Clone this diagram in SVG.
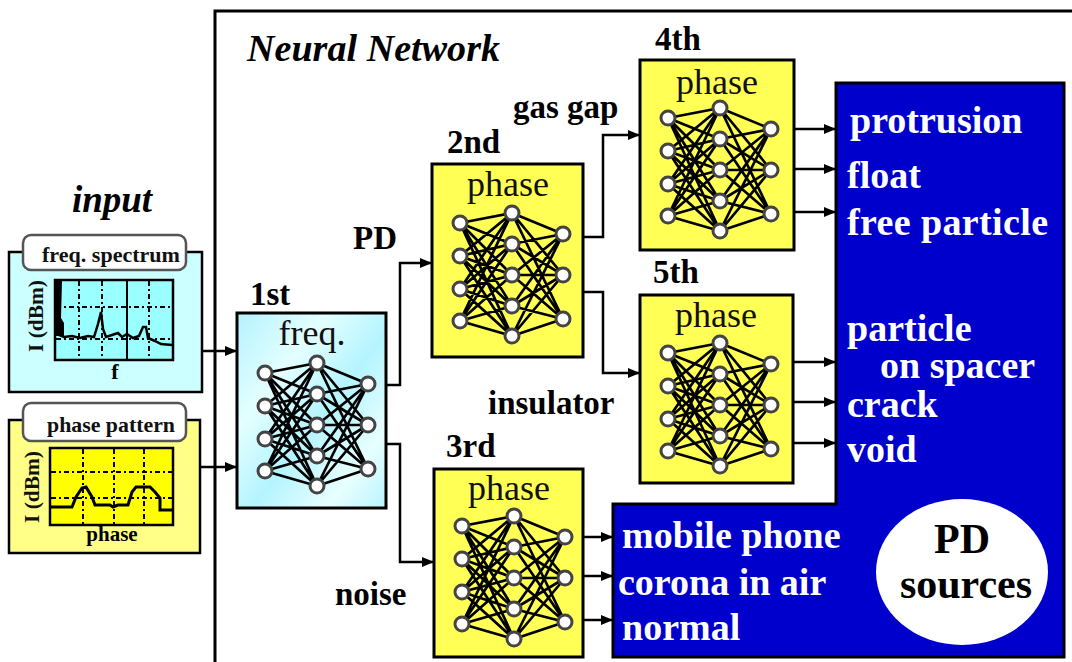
<svg xmlns="http://www.w3.org/2000/svg" xmlns:xlink="http://www.w3.org/1999/xlink" width="1072" height="662" viewBox="0 0 1072 662">
<style>
text{font-family:"Liberation Serif","Times New Roman",serif}
.lbl{font-weight:bold;font-size:33px;fill:#000}
.ttl{font-size:36px;text-anchor:middle;fill:#111}
.out{font-weight:bold;font-size:38px;fill:#fff}
.box{stroke:#000;stroke-width:3}
.ybox{fill:#ffff55}
.con{fill:none;stroke:#000;stroke-width:2.5}
.grid{fill:none;stroke:#000;stroke-width:2;stroke-dasharray:5 3 2 3}
.small{font-weight:bold;font-size:21px;fill:#111}
</style>
<defs>
<linearGradient id="cyanG" x1="0" y1="0" x2="1" y2="1">
<stop offset="0" stop-color="#b4f2ff"/>
<stop offset="0.3" stop-color="#e4ffff"/>
<stop offset="0.55" stop-color="#b4f4ff"/>
<stop offset="0.8" stop-color="#e8ffff"/>
<stop offset="1" stop-color="#b8f4ff"/>
</linearGradient>
<marker id="arr" markerUnits="userSpaceOnUse" markerWidth="12" markerHeight="10" refX="12" refY="5" orient="auto">
<path d="M0,0 L12,5 L0,10 Z" fill="#000"/>
</marker>
<g id="net">
<path fill="none" stroke="#000" stroke-width="2.7" d="M28 58L80 48M28 58L80 79M28 58L80 110M28 58L80 141M28 58L80 171M28 91L80 48M28 91L80 79M28 91L80 110M28 91L80 141M28 91L80 171M28 124L80 48M28 124L80 79M28 124L80 110M28 124L80 141M28 124L80 171M28 156L80 48M28 156L80 79M28 156L80 110M28 156L80 141M28 156L80 171M80 48L131 69M80 48L131 110M80 48L131 154M80 79L131 69M80 79L131 110M80 79L131 154M80 110L131 69M80 110L131 110M80 110L131 154M80 141L131 69M80 141L131 110M80 141L131 154M80 171L131 69M80 171L131 110M80 171L131 154"/>
<g fill="#fff" stroke="#444" stroke-width="3">
<circle cx="28" cy="58" r="7"/><circle cx="28" cy="91" r="7"/><circle cx="28" cy="124" r="7"/><circle cx="28" cy="156" r="7"/>
<circle cx="80" cy="48" r="7"/><circle cx="80" cy="79" r="7"/><circle cx="80" cy="110" r="7"/><circle cx="80" cy="141" r="7"/><circle cx="80" cy="171" r="7"/>
<circle cx="131" cy="69" r="7"/><circle cx="131" cy="110" r="7"/><circle cx="131" cy="154" r="7"/>
</g>
</g>
</defs>

<rect width="1072" height="662" fill="#fff"/>

<g id="frame">
<path d="M215,662 V11 H1072" fill="none" stroke="#000" stroke-width="3"/>
<text x="247" y="61" font-size="38" font-style="italic" font-weight="bold" textLength="253">Neural Network</text>
</g>

<g id="pd-sources">
<path d="M836,83 H1064 V657 H613 V504 H836 Z" fill="#0000cc" stroke="#000" stroke-width="3"/>
<ellipse cx="962" cy="572" rx="86" ry="73" fill="#fff"/>
<text x="962" y="553" text-anchor="middle" font-size="42" font-weight="bold">PD</text>
<text x="966" y="598" text-anchor="middle" font-size="42" font-weight="bold">sources</text>
<text class="out" x="850" y="133">protrusion</text>
<text class="out" x="847" y="188">float</text>
<text class="out" x="847" y="235" textLength="201">free particle</text>
<text class="out" x="847" y="341">particle</text>
<text class="out" x="880" y="378">on spacer</text>
<text class="out" x="847" y="417">crack</text>
<text class="out" x="847" y="462">void</text>
<text class="out" x="622" y="548">mobile phone</text>
<text class="out" x="618" y="595">corona in air</text>
<text class="out" x="622" y="640">normal</text>
</g>

<g id="input">
<text x="112" y="212" text-anchor="middle" font-size="37" font-style="italic" font-weight="bold">input</text>
</g>

<g id="freq-spectrum">
<rect x="9" y="252" width="193" height="140" fill="#ccffff" stroke="#000" stroke-width="2.5"/>
<rect x="23" y="235" width="163" height="35" rx="8" fill="#fff" stroke="#555" stroke-width="2.5"/>
<text class="small" x="42" y="262" textLength="138" lengthAdjust="spacingAndGlyphs">freq. spectrum</text>
<rect x="55" y="280" width="118" height="80" fill="#99ffff" stroke="#000" stroke-width="2.5"/>
<path class="grid" d="M79,281 V359 M102,281 V359 M149,281 V359 M56,307 H172 M56,339 H172"/>
<path d="M127,281 V359" stroke="#000" stroke-width="2"/>
<path d="M56,281 H62 L61,318 L64,323 V336 H56 Z" fill="#000"/>
<path d="M57,334 L64,337 L72,336 L80,338 L88,336 L94,337 L98,324 L101,312 L103,329 L106,337 L112,335 L118,333 L122,337 L127,334 L133,338 L139,336 L143,327 L146,327 L148,338 L155,341 L161,344 L172,345" fill="none" stroke="#000" stroke-width="2.5"/>
<text x="43" y="316" transform="rotate(-90 43 316)" text-anchor="middle" class="small" fill="#333" textLength="72" lengthAdjust="spacingAndGlyphs">I (dBm)</text>
<text x="115" y="379" text-anchor="middle" font-size="22" font-weight="bold">f</text>
</g>

<g id="phase-pattern">
<rect x="9" y="420" width="191" height="133" fill="#ffff88" stroke="#000" stroke-width="2.5"/>
<rect x="23" y="403" width="163" height="38" rx="8" fill="#fff" stroke="#555" stroke-width="2.5"/>
<text class="small" x="47" y="432" textLength="128" lengthAdjust="spacingAndGlyphs">phase pattern</text>
<rect x="50" y="448" width="123" height="77" fill="#ffff00" stroke="#000" stroke-width="2.5"/>
<path class="grid" d="M83,449 V524 M114,449 V524 M144,449 V524 M51,472 H172 M51,498 H172"/>
<path d="M51,507 H72 L76,497 L82,488 L86,487 L92,497 L95,505 H110 L113,507 L118,505 H128 L132,492 L136,487 H150 L155,492 L160,498 V510 H172" fill="none" stroke="#000" stroke-width="3"/>
<text x="39" y="487" transform="rotate(-90 39 487)" text-anchor="middle" class="small" fill="#333" textLength="72" lengthAdjust="spacingAndGlyphs">I (dBm)</text>
<text x="112" y="541" text-anchor="middle" font-size="21" font-weight="bold">phase</text>
</g>

<g id="nn-1st">
<text class="lbl" x="250" y="305">1st</text>
<rect class="box" x="237" y="313" width="149" height="195" fill="url(#cyanG)"/>
<text class="ttl" x="312" y="345">freq.</text>
<use xlink:href="#net" href="#net" x="237" y="315"/>
</g>

<g id="nn-2nd">
<text class="lbl" x="447" y="153">2nd</text>
<rect class="box ybox" x="432" y="164" width="151" height="193"/>
<text class="ttl" x="508" y="196">phase</text>
<use xlink:href="#net" href="#net" x="432" y="165"/>
</g>

<g id="nn-3rd">
<text class="lbl" x="446" y="457">3rd</text>
<rect class="box ybox" x="434" y="469" width="149" height="188"/>
<text class="ttl" x="509" y="500">phase</text>
<use xlink:href="#net" href="#net" x="434" y="468"/>
</g>

<g id="nn-4th">
<text class="lbl" x="655" y="50">4th</text>
<rect class="box ybox" x="640" y="60" width="154" height="190"/>
<text class="ttl" x="717" y="94">phase</text>
<use xlink:href="#net" href="#net" x="640" y="60"/>
</g>

<g id="nn-5th">
<text class="lbl" x="653" y="283">5th</text>
<rect class="box ybox" x="640" y="295" width="153" height="188"/>
<text class="ttl" x="716" y="327">phase</text>
<use xlink:href="#net" href="#net" x="640" y="295"/>
</g>

<g id="edge-labels">
<text class="lbl" x="353" y="249">PD</text>
<text class="lbl" x="513" y="118">gas gap</text>
<text class="lbl" x="488" y="414">insulator</text>
<text class="lbl" x="335" y="605">noise</text>
</g>

<g id="connectors">
<path class="con" d="M202,351 H237" marker-end="url(#arr)"/>
<path class="con" d="M200,467 H237" marker-end="url(#arr)"/>
<path class="con" d="M386,385 H400 V263 H432" marker-end="url(#arr)"/>
<path class="con" d="M386,444 H400 V562 H434" marker-end="url(#arr)"/>
<path class="con" d="M583,237 H603 V135 H640" marker-end="url(#arr)"/>
<path class="con" d="M583,292 H603 V373 H640" marker-end="url(#arr)"/>
<path class="con" d="M794,129 H836" marker-end="url(#arr)"/>
<path class="con" d="M794,169 H836" marker-end="url(#arr)"/>
<path class="con" d="M794,212 H836" marker-end="url(#arr)"/>
<path class="con" d="M793,362 H836" marker-end="url(#arr)"/>
<path class="con" d="M793,402 H836" marker-end="url(#arr)"/>
<path class="con" d="M793,443 H836" marker-end="url(#arr)"/>
<path class="con" d="M583,537 H613" marker-end="url(#arr)"/>
<path class="con" d="M583,576 H613" marker-end="url(#arr)"/>
<path class="con" d="M583,620 H613" marker-end="url(#arr)"/>
</g>
</svg>
